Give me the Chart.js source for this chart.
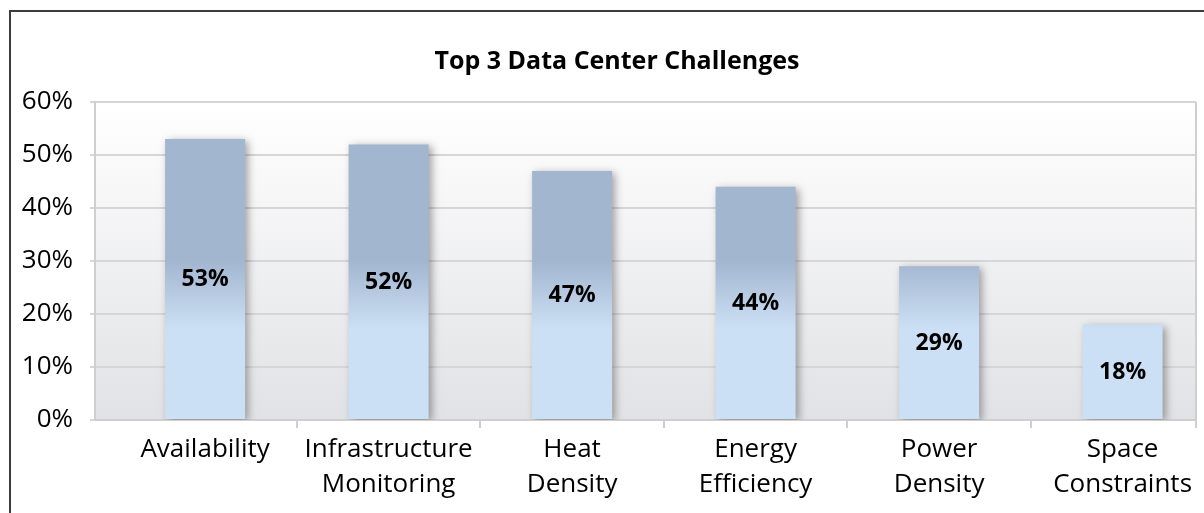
<!DOCTYPE html>
<html>
<head>
<meta charset="utf-8">
<script src="https://cdn.jsdelivr.net/npm/chart.js@4/dist/chart.umd.min.js"></script>
<style>
  html, body { margin: 0; padding: 0; background: #fff; overflow: hidden; width: 1204px; height: 513px; }
  #frame { position: absolute; left: 9px; top: 10px; border-left: 2px solid #3c3c3c; border-top: 2px solid #3c3c3c; width: 1212px; height: 520px; }
  canvas { display: block; }
</style>
</head>
<body>
<div id="frame"><canvas id="c" width="1212" height="520"></canvas></div>
<script>
// ---- data ----
const categories = [
  ["Availability"],
  ["Infrastructure", "Monitoring"],
  ["Heat", "Density"],
  ["Energy", "Efficiency"],
  ["Power", "Density"],
  ["Space", "Constraints"]
];
const values = [53, 52, 47, 44, 29, 18];
const yTicks = [0, 10, 20, 30, 40, 50, 60];
const titleText = "Top 3 Data Center Challenges";

const FONT = "'Open Sans', 'DejaVu Sans', sans-serif";

const plotBg = {
  id: 'plotBg',
  beforeDraw(chart) {
    const { ctx, chartArea: a } = chart;
    const g = ctx.createLinearGradient(0, a.top, 0, a.bottom);
    g.addColorStop(0, '#ffffff');
    g.addColorStop(1, '#e1e2e5');
    ctx.save();
    ctx.fillStyle = g;
    ctx.fillRect(a.left, a.top, a.right - a.left, a.bottom - a.top);
    ctx.restore();
  },
  afterDraw(chart) {
    const { ctx, chartArea: a, scales } = chart;
    ctx.save();
    ctx.strokeStyle = '#cfcfcf';
    ctx.lineWidth = 2;
    ctx.beginPath();
    ctx.moveTo(a.right, a.top);
    ctx.lineTo(a.right, a.bottom + 8);
    ctx.stroke();
    // category boundary tick marks
    ctx.beginPath();
    for (let i = 0; i < categories.length - 1; i++) {
      const x = Math.round(scales.x.getPixelForValue(i + 0.5));
      ctx.moveTo(x, a.bottom);
      ctx.lineTo(x, a.bottom + 8);
    }
    ctx.stroke();
    ctx.restore();
  }
};

const barShadow = {
  id: 'barShadow',
  beforeDatasetDraw(chart) {
    const ctx = chart.ctx;
    ctx.save();
    ctx.shadowColor = 'rgba(0,0,0,0.35)';
    ctx.shadowBlur = 8;
    ctx.shadowOffsetX = 3;
    ctx.shadowOffsetY = 2;
  },
  afterDatasetDraw(chart) {
    chart.ctx.restore();
  }
};

const valueLabels = {
  id: 'valueLabels',
  afterDatasetsDraw(chart) {
    const { ctx, scales } = chart;
    const meta = chart.getDatasetMeta(0);
    ctx.save();
    ctx.font = "bold 23px " + FONT;
    ctx.fillStyle = '#000';
    ctx.textAlign = 'center';
    ctx.textBaseline = 'middle';
    meta.data.forEach((bar, i) => {
      const y = scales.y.getPixelForValue(values[i] / 2);
      ctx.fillText(values[i] + '%', bar.x, y);
    });
    ctx.restore();
  }
};

new Chart(document.getElementById('c'), {
  type: 'bar',
  data: {
    datasets: [{
      data: values.map((v, i) => ({ x: i, y: v })),
      backgroundColor: (c) => {
        const chart = c.chart;
        if (!chart.chartArea) return '#cbe0f5';
        const y = chart.scales.y;
        const g = chart.ctx.createLinearGradient(0, y.getPixelForValue(30), 0, y.getPixelForValue(17));
        g.addColorStop(0, '#a3b6d0');
        g.addColorStop(1, '#cce0f5');
        return g;
      },
      borderWidth: 0,
      barPercentage: 0.436,
      categoryPercentage: 1
    }]
  },
  options: {
    responsive: false,
    animation: false,
    devicePixelRatio: 1,
    layout: { padding: 0 },
    plugins: {
      legend: { display: false },
      tooltip: { enabled: false },
      title: {
        display: true,
        text: titleText,
        color: '#000',
        font: { family: FONT, size: 25, weight: 'bold', lineHeight: 1.2 },
        padding: { top: 35, bottom: 25 }
      }
    },
    scales: {
      x: {
        type: 'linear',
        offset: false,
        min: -0.6,
        max: 5.4,
        afterBuildTicks: (s) => { s.ticks = categories.map((_, i) => ({ value: i })); },
        afterFit: (s) => { s.height = 112; },
        ticks: {
          callback: (v) => categories[v],
          color: '#000',
          font: { family: FONT, size: 26, lineHeight: 1.35 },
          padding: 12,
          maxRotation: 0,
          autoSkip: false
        },
        grid: { drawOnChartArea: false, drawTicks: false, offset: false },
        border: { display: true, color: '#cfcfcf', width: 2 }
      },
      y: {
        min: 0,
        max: 60,
        afterBuildTicks: (s) => { s.ticks = yTicks.map(v => ({ value: v })); },
        afterFit: (s) => { s.width = 84; },
        ticks: {
          callback: (v) => v + '%',
          color: '#000',
          font: { family: FONT, size: 26 },
          padding: 17
        },
        grid: { color: '#d6d6d6', lineWidth: 2, tickLength: 5 },
        border: { display: true, color: '#cfcfcf', width: 2 }
      },
      spacer: {
        position: 'right',
        min: 0,
        max: 60,
        afterFit: (s) => { s.width = 27; },
        ticks: { display: false },
        grid: { display: false, drawTicks: false },
        border: { display: false }
      }
    }
  },
  plugins: [plotBg, barShadow, valueLabels]
});
</script>
</body>
</html>
